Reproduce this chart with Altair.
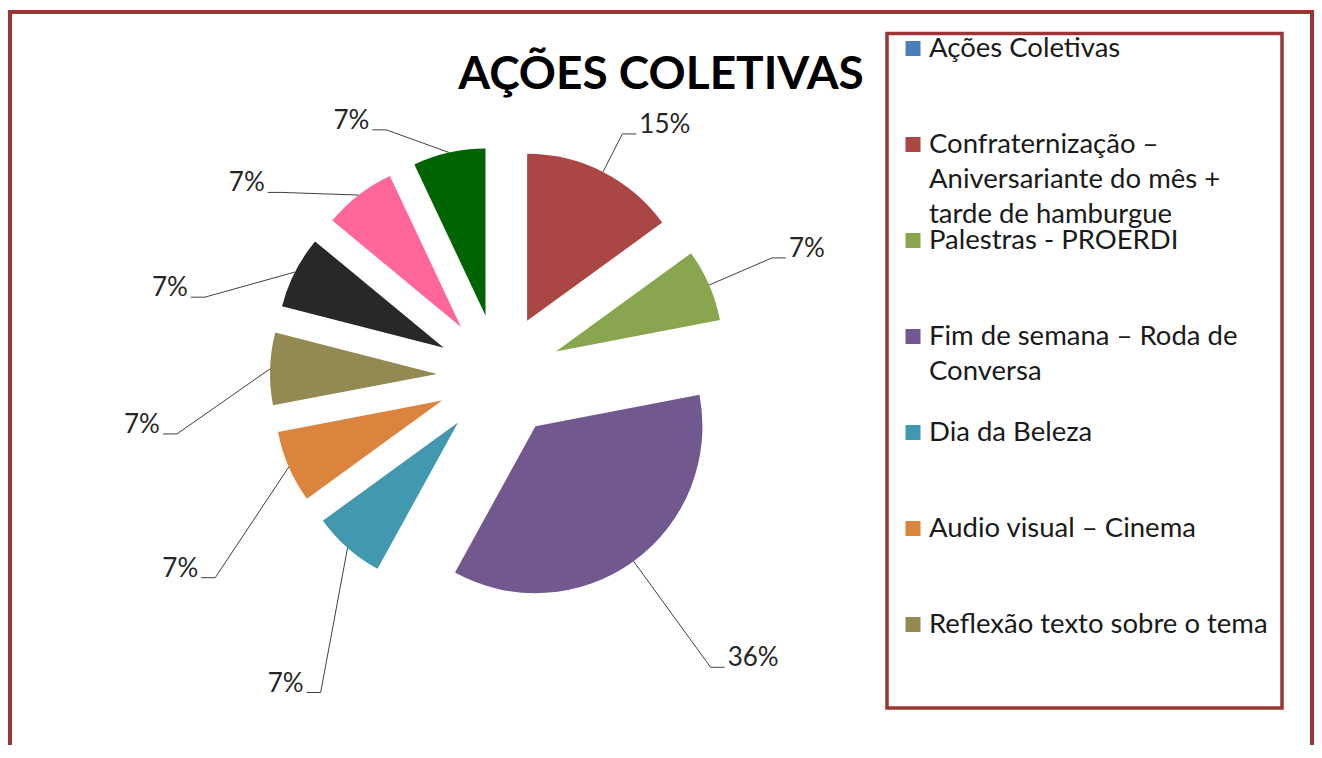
import altair as alt
import pandas as pd

# ---------------- data ----------------
categories = [
    "Ações Coletivas",
    "Confraternização – Aniversariante do mês + tarde de hamburgue",
    "Palestras - PROERDI",
    "Fim de semana – Roda de Conversa",
    "Dia da Beleza",
    "Audio visual – Cinema",
    "Reflexão texto sobre o tema",
    "Categoria 8",
    "Categoria 9",
    "Categoria 10",
]
legend_text = [
    "Ações Coletivas",
    "Confraternização –\nAniversariante do mês +\ntarde de hamburgue",
    "Palestras - PROERDI",
    "Fim de semana – Roda de\nConversa",
    "Dia da Beleza",
    "Audio visual – Cinema",
    "Reflexão texto sobre o tema",
    "Categoria 8",
    "Categoria 9",
    "Categoria 10",
]
percent = [0, 15, 7, 36, 7, 7, 7, 7, 7, 7]
colors = ["#4A7EBB", "#AA4643", "#89A54E", "#71588F", "#4198AF",
          "#DB843D", "#938953", "#282828", "#FF6699", "#006400"]
title_text = "AÇÕES COLETIVAS"

# ---------------- layout / style ----------------
W, H = 1306, 737
CX, CY = 491, 368          # pie centre
R = 167                    # slice radius
EXPLODE = 62               # explosion distance
LAB_R0, LAB_RK = 318, 52   # elbow radius = LAB_R0 - LAB_RK*cos(angle)
LAB_ROT_LEFT = -12         # degrees, label rotation for left-hand labels
TICK, GAP = 14, 3
LEG_X_SQ, LEG_X_TXT = 905, 921
LEG_Y0, LEG_STEP, LEG_VISIBLE = 40.5, 96, 7
BORDER = "#9A3735"
FONT = "Lato"

df = pd.DataFrame({
    "order": list(range(len(categories))),
    "category": categories,
    "legend": legend_text,
    "value": percent,
})

xs = alt.Scale(domain=[-CX, W - CX], nice=False, zero=False)
ys = alt.Scale(domain=[-CY, H - CY], nice=False, zero=False, reverse=True)
cscale = alt.Scale(domain=categories, range=colors)

pie = (
    alt.Chart(df)
    .transform_joinaggregate(total="sum(value)")
    .transform_window(cum="sum(value)", sort=[alt.SortField("order")], frame=[None, 0])
    .transform_calculate(
        p1="datum.cum / datum.total * 100",
        p0="(datum.cum - datum.value) / datum.total * 100",
    )
    .transform_calculate(mid="(datum.p0 + datum.p1) / 200 * 2 * PI")
    .transform_calculate(
        ex=f"{EXPLODE} * sin(datum.mid)",
        ey=f"-{EXPLODE} * cos(datum.mid)",
        ax=f"{R + EXPLODE} * sin(datum.mid)",
        ay=f"-{R + EXPLODE} * cos(datum.mid)",
        side="sin(datum.mid) >= 0 ? 1 : -1",
        label="format(datum.value / datum.total, '.0%')",
    )
    .transform_calculate(
        la=f"datum.mid + (datum.side < 0 ? {LAB_ROT_LEFT} * PI / 180 : 0)",
    )
    .transform_calculate(re=f"{LAB_R0} - {LAB_RK} * cos(datum.la)")
    .transform_calculate(
        bx="datum.re * sin(datum.la)",
        by="-datum.re * cos(datum.la)",
    )
    .transform_calculate(
        hx=f"datum.bx + datum.side * {TICK}",
        tx=f"datum.bx + datum.side * {TICK + GAP}",
    )
    .transform_filter("datum.value > 0")
)

arcs = pie.mark_arc(radius=R).encode(
    x=alt.X("ex:Q", scale=xs, axis=None),
    y=alt.Y("ey:Q", scale=ys, axis=None),
    theta=alt.Theta("p0:Q", scale=alt.Scale(domain=[0, 100]), stack=None),
    theta2="p1:Q",
    color=alt.Color("category:N", scale=cscale, legend=None),
)

lead1 = pie.mark_rule(color="#404040", strokeWidth=1).encode(
    x=alt.X("ax:Q", scale=xs, axis=None),
    y=alt.Y("ay:Q", scale=ys, axis=None),
    x2="bx:Q",
    y2="by:Q",
)
lead2 = pie.mark_rule(color="#404040", strokeWidth=1).encode(
    x=alt.X("bx:Q", scale=xs, axis=None),
    y=alt.Y("by:Q", scale=ys, axis=None),
    x2="hx:Q",
    y2="by:Q",
)
lab_style = dict(baseline="alphabetic", fontSize=26, font=FONT, color="#262626", dy=-1)
lab_r = pie.transform_filter("datum.side > 0").mark_text(align="left", **lab_style).encode(
    x=alt.X("tx:Q", scale=xs, axis=None),
    y=alt.Y("by:Q", scale=ys, axis=None),
    text="label:N",
)
lab_l = pie.transform_filter("datum.side < 0").mark_text(align="right", **lab_style).encode(
    x=alt.X("tx:Q", scale=xs, axis=None),
    y=alt.Y("by:Q", scale=ys, axis=None),
    text="label:N",
)

# legend (only the entries that fit in the box are visible)
leg = (
    alt.Chart(df)
    .transform_filter(f"datum.order < {LEG_VISIBLE}")
    .transform_calculate(ly=f"{LEG_Y0 - CY} + datum.order * {LEG_STEP}")
)
leg_sq = leg.mark_square(size=225, opacity=1, filled=True).encode(
    x=alt.value(LEG_X_SQ),
    y=alt.Y("ly:Q", scale=ys, axis=None),
    color=alt.Color("category:N", scale=cscale, legend=None),
)
leg_txt = leg.mark_text(
    align="left", baseline="alphabetic", dy=8, fontSize=27.5, lineHeight=35,
    lineBreak="\n", font=FONT, color="#1a1a1a",
).encode(
    x=alt.value(LEG_X_TXT),
    y=alt.Y("ly:Q", scale=ys, axis=None),
    text="legend:N",
)

one = pd.DataFrame({"k": [0]})
brd = alt.Chart(one).mark_rule(color=BORDER, strokeWidth=4)
b_left = brd.encode(x=alt.value(2), y=alt.value(2), y2=alt.value(H))
b_top = brd.encode(x=alt.value(0), x2=alt.value(W), y=alt.value(4))
b_right = brd.encode(x=alt.value(W - 2), y=alt.value(2), y2=alt.value(H))
legbox = alt.Chart(one).mark_rect(fillOpacity=0, stroke=BORDER, strokeWidth=3.5).encode(
    x=alt.value(879), x2=alt.value(1274), y=alt.value(25.5), y2=alt.value(700)
)

title = alt.Chart(pd.DataFrame({"t": [title_text]})).mark_text(
    font=FONT, fontWeight="bold", fontSize=46, align="center",
    baseline="alphabetic", color="#000000",
).encode(x=alt.value(653), y=alt.value(81), text="t:N")

chart = (
    alt.layer(b_left, b_top, b_right, legbox, arcs, lead1, lead2, lab_r, lab_l,
              title, leg_sq, leg_txt)
    .properties(width=W, height=H, padding=0,
                autosize=alt.AutoSizeParams(type="none"), background="white")
    .configure_view(stroke=None)
)

chart.save("out.html", embed_options={"renderer": "svg", "actions": False})
